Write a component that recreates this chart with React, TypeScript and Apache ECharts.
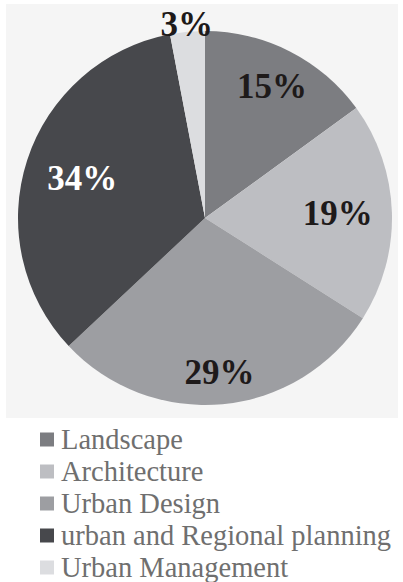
import React, { useEffect, useRef } from "react";
import * as echarts from "echarts";

const categories = [
  "Landscape",
  "Architecture",
  "Urban Design",
  "urban and Regional planning",
  "Urban Management",
];
const values = [15, 19, 29, 34, 3];
const colors = ["#7c7d81", "#bdbec2", "#9d9ea2", "#47484c", "#dcdde0"];
const labelColors = ["#1e1a1a", "#1e1a1a", "#1e1a1a", "#ffffff", "#1e1a1a"];
// radial position of each label as a fraction of the radius
const labelRadius = [0.79, 0.71, 0.83, 0.69, 1.04];

const CX = 205;
const CY = 218;
const R = 187;
const SERIF = "'Liberation Serif', 'Times New Roman', Times, serif";

export default function App() {
  const ref = useRef<HTMLDivElement>(null);
  useEffect(() => {
    if (!ref.current) return;
    const chart = echarts.init(ref.current, null, { renderer: "svg" });
    chart.setOption({
      animation: false,
      backgroundColor: "#ffffff",
      graphic: [
        {
          type: "rect",
          z: -10,
          silent: true,
          shape: { x: 6, y: 4, width: 392, height: 414 },
          style: { fill: "#f5f5f5" },
        },
      ],
      legend: {
        orient: "vertical",
        left: 40,
        top: 425,
        height: 220,
        padding: 0,
        icon: "rect",
        itemWidth: 14,
        itemHeight: 14,
        itemGap: 3,
        selectedMode: false,
        textStyle: {
          fontFamily: SERIF,
          fontSize: 28.5,
          lineHeight: 27,
          color: "#6f6f6f",
          padding: [0, 0, 0, 2],
        },
        data: categories,
      },
      series: [
        {
          type: "pie",
          center: [CX, CY],
          radius: [0, R],
          startAngle: 90,
          clockwise: true,
          silent: true,
          label: {
            show: true,
            position: "inside",
            formatter: "{d}%",
            fontFamily: SERIF,
            fontWeight: "bold",
            fontSize: 35,
          },
          labelLine: { show: false },
          labelLayout: (params: any) => {
            const r = params.labelRect;
            const lx = r.x + r.width / 2;
            const ly = r.y + r.height / 2;
            const vx = lx - CX;
            const vy = ly - CY;
            const d = Math.sqrt(vx * vx + vy * vy) || 1;
            const target = labelRadius[params.dataIndex] * R;
            const k = target / d - 1;
            return { dx: vx * k, dy: vy * k };
          },
          data: categories.map((name, i) => ({
            name,
            value: values[i],
            itemStyle: { color: colors[i] },
            label: { color: labelColors[i] },
          })),
        },
      ],
    });
    return () => chart.dispose();
  }, []);
  return (
    <div
      ref={ref}
      style={{ position: "absolute", left: 0, top: 0, width: 403, height: 582 }}
    />
  );
}
